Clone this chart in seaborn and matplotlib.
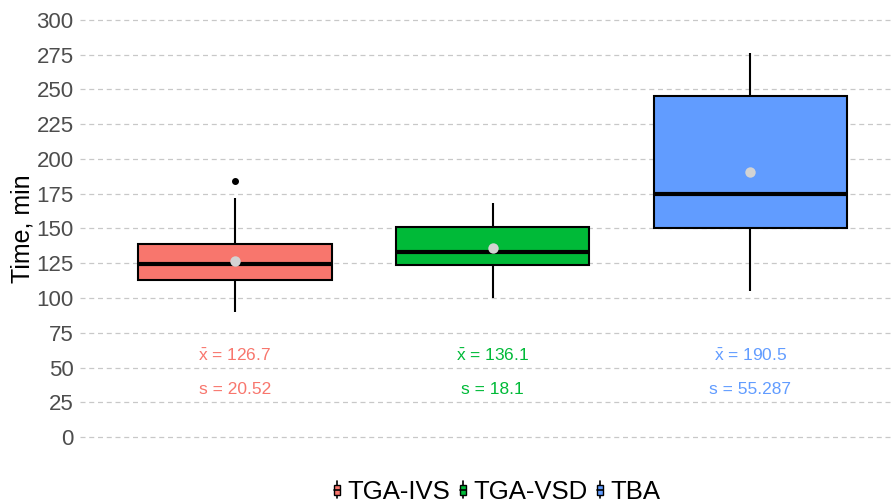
import numpy as np
import pandas as pd
import matplotlib
matplotlib.use("Agg")
import matplotlib.pyplot as plt
from matplotlib.patches import Rectangle
from matplotlib.lines import Line2D
from matplotlib.legend_handler import HandlerBase
import seaborn as sns

# Groups and their observations (box summary values: whiskers, quartiles, median, outliers)
groups = ["TGA-IVS", "TGA-VSD", "TBA"]
tga_ivs = [90, 112.8, 112.8, 124.5, 124.5, 138.5, 138.5, 172, 184]
tga_vsd = [100.3, 123.8, 133.1, 151.3, 168.5]
tba = [105.3, 150.1, 174.6, 245.4, 275.9]

# Group means and standard deviations shown under the boxes
means = [126.7, 136.1, 190.5]
sds = ["20.52", "18.1", "55.287"]
mean_labels = ["126.7", "136.1", "190.5"]

colors = ["#F8766D", "#00BA38", "#619CFF"]
yticks = [0, 25, 50, 75, 100, 125, 150, 175, 200, 225, 250, 275, 300]

df = pd.DataFrame({
    "group": [groups[0]] * len(tga_ivs) + [groups[1]] * len(tga_vsd) + [groups[2]] * len(tba),
    "time": tga_ivs + tga_vsd + tba,
})

sns.set_theme(style="white")
plt.rcParams["font.family"] = ["Liberation Sans", "DejaVu Sans"]
plt.rcParams["mathtext.fontset"] = "custom"
plt.rcParams["mathtext.rm"] = "Liberation Sans"
plt.rcParams["mathtext.it"] = "Liberation Sans"
plt.rcParams["mathtext.bf"] = "Liberation Sans:bold"

fig = plt.figure(figsize=(8.95, 5.04), dpi=100)
ax = fig.add_axes([0.0899, 0.1048, 0.9101, 0.8837])

palette = dict(zip(groups, colors))
sns.boxplot(
    data=df, x="group", y="time", hue="group", palette=palette, order=groups,
    width=0.75, whis=1.5, saturation=1, legend=False, ax=ax,
    boxprops=dict(edgecolor="black", linewidth=1.5),
    whiskerprops=dict(color="black", linewidth=1.5),
    capprops=dict(linewidth=0),
    medianprops=dict(color="black", linewidth=3),
    flierprops=dict(marker="o", markerfacecolor="black", markeredgecolor="black",
                    markersize=4),
    zorder=3,
)

# Mean markers
sns.stripplot(x=groups, y=means, order=groups, jitter=False, color="#D3D3D3",
              size=7.5, linewidth=0, ax=ax, zorder=5)

# Mean / SD annotations
for i, g in enumerate(groups):
    ax.text(i, 58.5, r"$\bar{\mathrm{x}}$ = " + mean_labels[i], color=colors[i],
            ha="center", va="center", fontsize=12.5, zorder=6)
    ax.text(i, 34, "s = " + sds[i], color=colors[i], ha="center",
            va="center", fontsize=12.5, zorder=6)

ax.set_ylim(-10, 310)
ax.set_xlim(-0.6, 2.562)
ax.set_yticks(yticks)
ax.set_yticklabels([str(t) for t in yticks])
ax.set_xticks([])
ax.set_xlabel("")
ax.set_ylabel("Time, min", fontsize=18, color="black")
ax.yaxis.set_label_coords(-0.057, 0.5)
ax.tick_params(axis="y", length=0, pad=5, labelsize=16, labelcolor="#4D4D4D")
ax.yaxis.grid(True, color="#C8C8C8", linestyle=(0, (4, 3)), linewidth=0.9, zorder=0)
ax.xaxis.grid(False)
ax.set_axisbelow(True)
for s in ax.spines.values():
    s.set_visible(False)


class BoxGlyph:
    def __init__(self, color):
        self.color = color


class BoxGlyphHandler(HandlerBase):
    def create_artists(self, legend, orig_handle, xdescent, ydescent, width, height,
                       fontsize, trans):
        cx = width / 2 - xdescent
        h = height * 0.95
        y0 = -ydescent + (height - h) / 2
        line = Line2D([cx, cx], [y0, y0 + h], color="black", linewidth=1.2, transform=trans)
        bw = width * 0.75
        rect = Rectangle((cx - bw / 2, y0 + h * 0.2), bw, h * 0.6,
                         facecolor=orig_handle.color, edgecolor="black", linewidth=1.0,
                         transform=trans)
        mid = Line2D([cx - bw / 2, cx + bw / 2], [y0 + h * 0.5] * 2, color="black",
                     linewidth=1.2, transform=trans)
        return [line, rect, mid]


handles = [BoxGlyph(c) for c in colors]
fig.legend(handles, groups, handler_map={BoxGlyph: BoxGlyphHandler()},
           loc="center", bbox_to_anchor=(0.555, 0.024), ncol=3, frameon=False,
           fontsize=18.5, labelcolor="black", handlelength=0.3, handleheight=0.7,
           handletextpad=0.25, columnspacing=0.35)

fig.savefig("out.png", dpi=100)
